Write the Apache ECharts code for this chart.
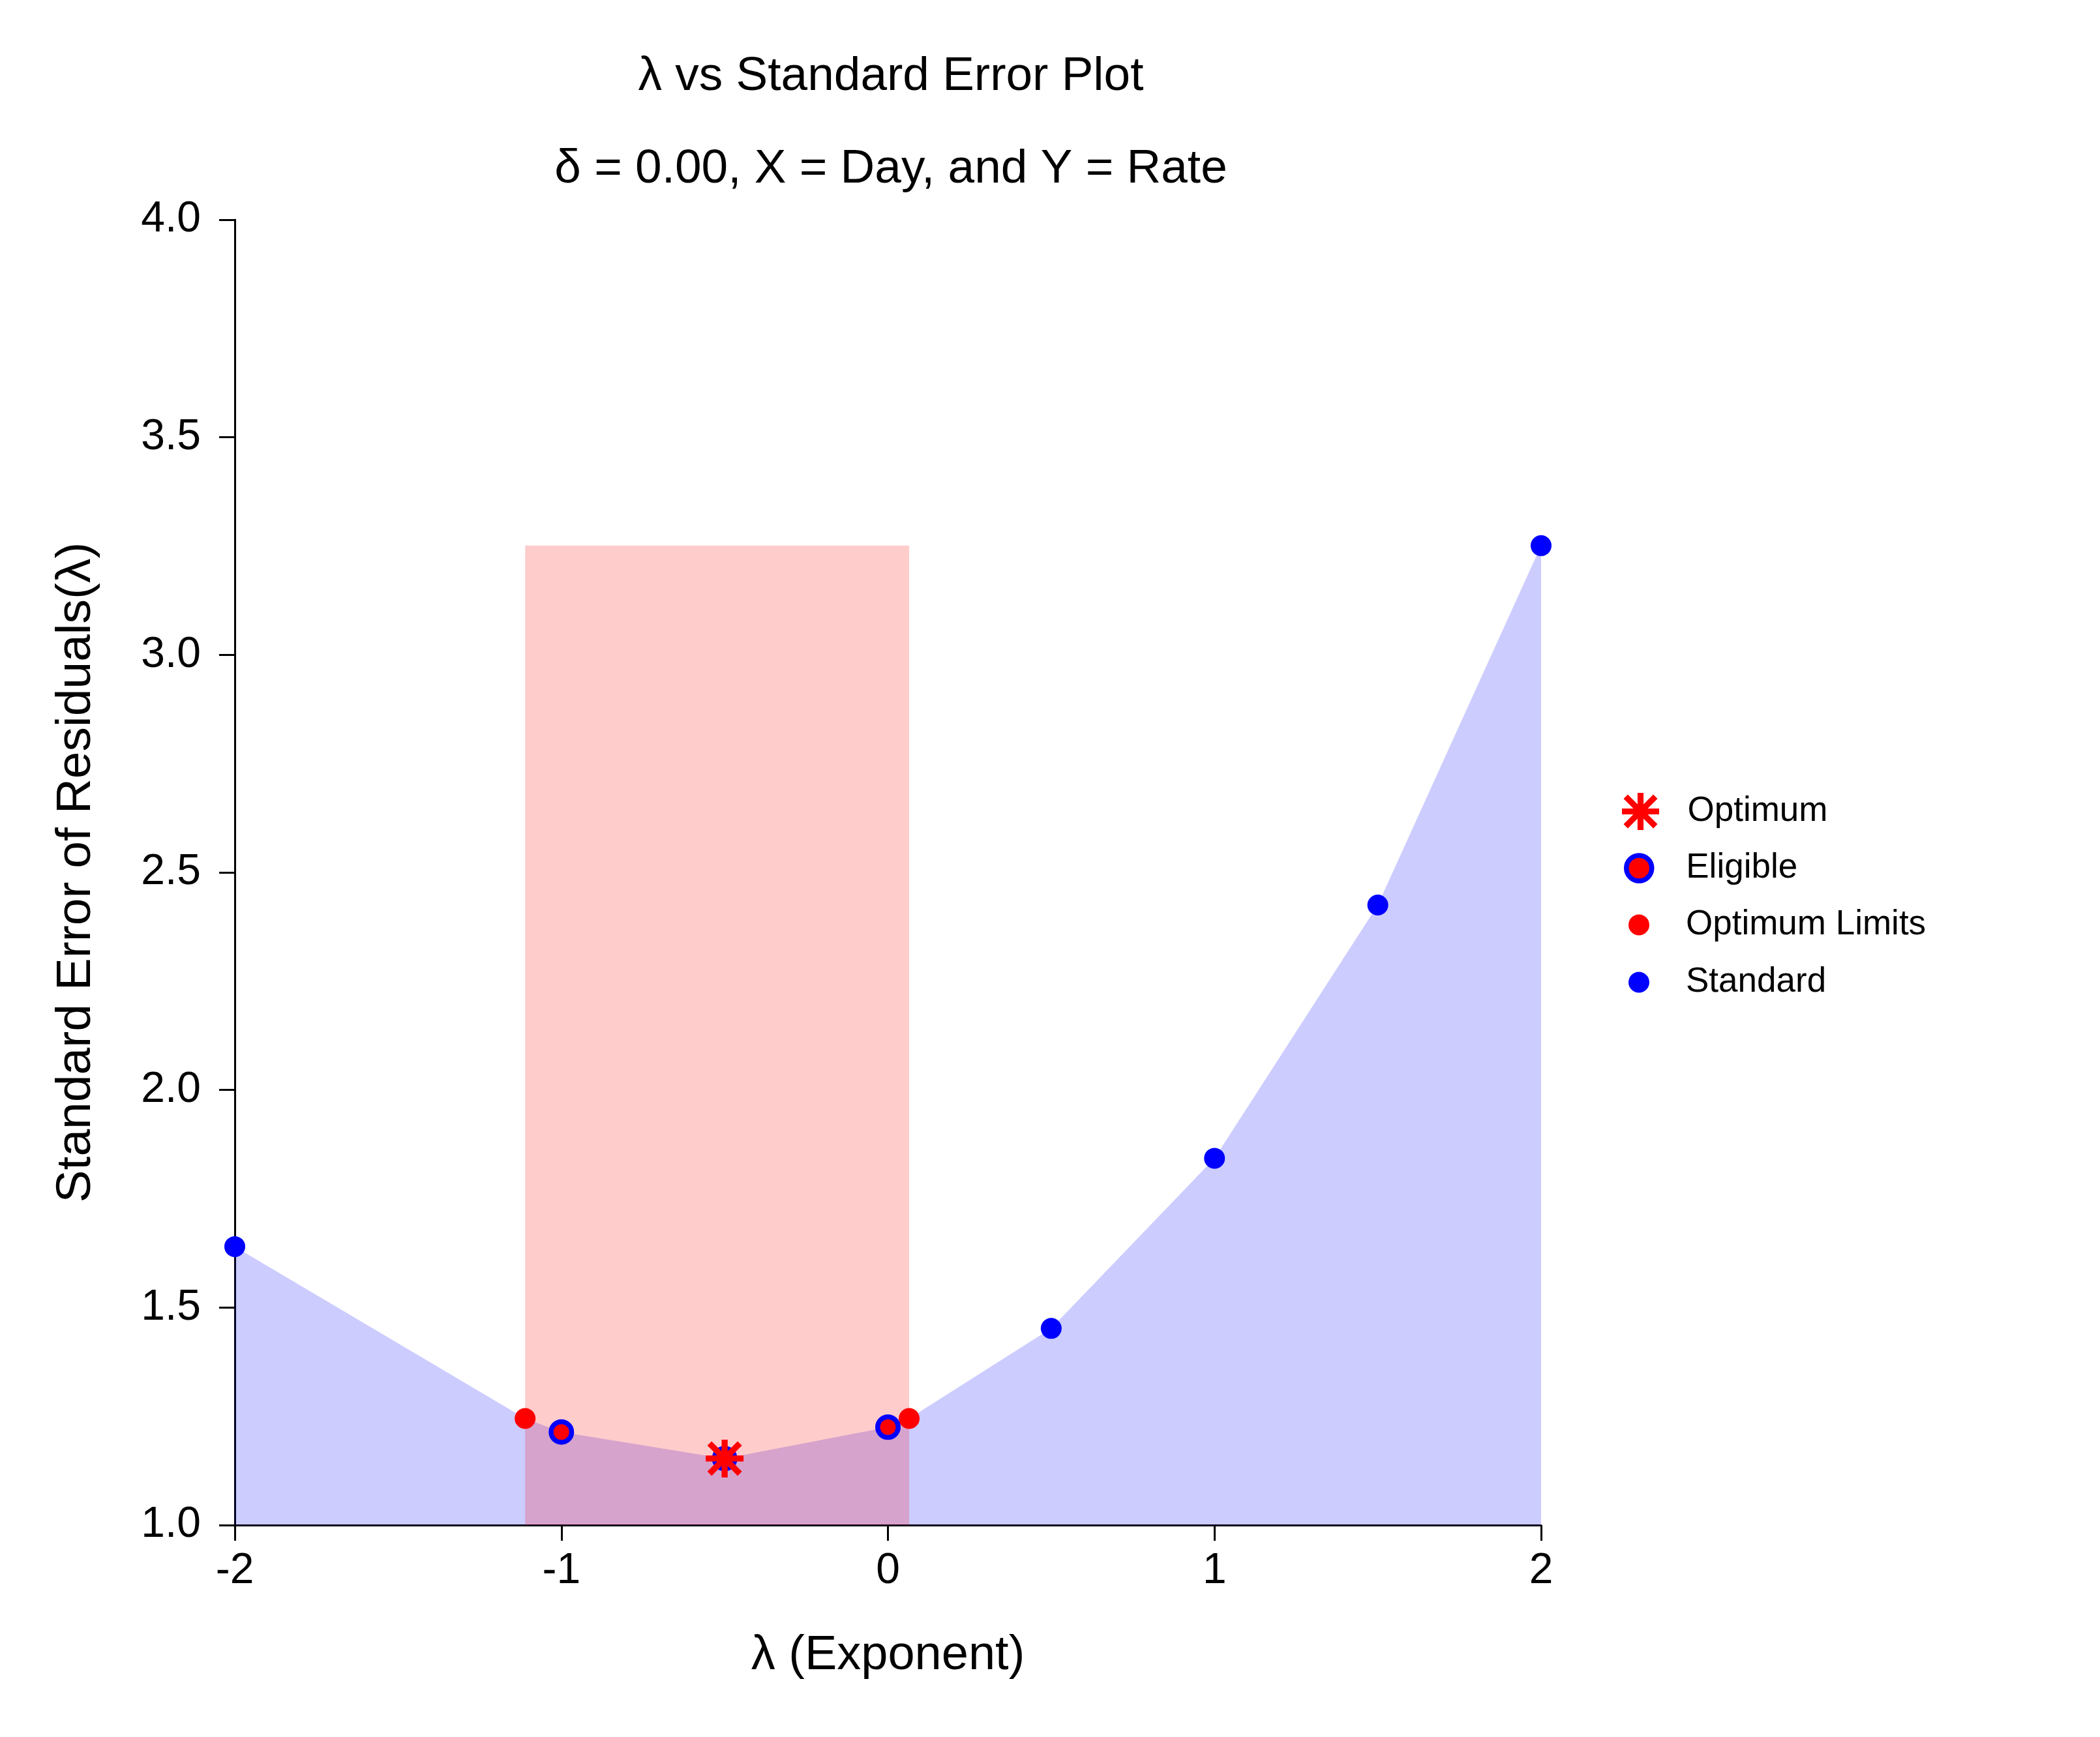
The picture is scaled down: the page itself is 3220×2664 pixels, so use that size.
<!DOCTYPE html>
<html>
<head>
<meta charset="utf-8">
<script src="https://cdn.jsdelivr.net/npm/echarts@6/dist/echarts.min.js"></script>
<style>
html,body{margin:0;padding:0;background:#fff;}
#chart{width:3220px;height:2664px;}
</style>
</head>
<body>
<div id="chart"></div>
<script>
// ---- data ----
const lambdaStd = [-2, -1, -0.5, 0, 0.5, 1, 1.5, 2];
const seStd = [1.640, 1.214, 1.153, 1.225, 1.452, 1.843, 2.425, 3.251];
const lambdaEligible = [-1, -0.5, 0];
const seEligible = [1.214, 1.153, 1.225];
const lambdaLimits = [-1.111, 0.065];
const seLimits = [1.245, 1.245];
const lambdaOpt = [-0.5];
const seOpt = [1.153];
const xTicks = [-2, -1, 0, 1, 2];
const yTicks = ['1.0', '1.5', '2.0', '2.5', '3.0', '3.5', '4.0'];
const titleText = 'λ vs Standard Error Plot';
const subtitleText = 'δ = 0.00, X = Day, and Y = Rate';
const xName = 'λ (Exponent)';
const yName = 'Standard Error of Residuals(λ)';

const FONT = '"Liberation Sans", Arial, sans-serif';
const STAR = 'path://M42 0L58 0L58 100L42 100Z M0 42L100 42L100 58L0 58Z M15.66 4.34L95.66 84.34L84.34 95.66L4.34 15.66Z M84.34 4.34L95.66 15.66L15.66 95.66L4.34 84.34Z';

const pairs = (xs, ys) => xs.map((x, i) => [x, ys[i]]);
const areaData = pairs(lambdaStd, seStd).concat(pairs(lambdaLimits, seLimits)).sort((a, b) => a[0] - b[0]);
const yMin = parseFloat(yTicks[0]), yMax = parseFloat(yTicks[yTicks.length - 1]);
const seMax = Math.max.apply(null, seStd);

const chart = echarts.init(document.getElementById('chart'), null, {renderer: 'canvas'});

function legendItem(name, left, top, size, icon, itemStyle) {
  const w = 134;
  return {
    data: [{name: name, icon: icon, itemStyle: itemStyle}],
    orient: 'vertical',
    left: left,
    top: top,
    padding: 0,
    itemWidth: w,
    itemHeight: size,
    symbolKeepAspect: true,
    selectedMode: false,
    textStyle: {fontFamily: FONT, fontSize: 53, color: '#000'}
  };
}

chart.setOption({
  animation: false,
  backgroundColor: '#fff',
  title: [
    {text: titleText, left: 1361, top: 76, textAlign: 'center',
     textStyle: {fontFamily: FONT, fontSize: 73, fontWeight: 'normal', color: '#000'}},
    {text: subtitleText, left: 1361, top: 218, textAlign: 'center',
     textStyle: {fontFamily: FONT, fontSize: 73, fontWeight: 'normal', color: '#000'}}
  ],
  legend: [
    legendItem('Optimum', 2487, 1216, 57, STAR, {color: '#ff0000', borderWidth: 0}),
    legendItem('Eligible', 2490, 1305, 39, 'circle', {color: '#ff0000', borderColor: '#0000ff', borderWidth: 7.5}),
    legendItem('Optimum Limits', 2497, 1392, 32, 'circle', {color: '#ff0000', borderWidth: 0}),
    legendItem('Standard', 2497, 1480, 32, 'circle', {color: '#0000ff', borderWidth: 0})
  ],
  grid: {left: 360, right: 857, top: 337, bottom: 325, containLabel: false},
  xAxis: {
    type: 'value', min: xTicks[0], max: xTicks[xTicks.length - 1], interval: 1,
    name: xName, nameLocation: 'middle', nameGap: 164,
    nameTextStyle: {fontFamily: FONT, fontSize: 74, color: '#000'},
    axisLine: {show: true, onZero: false, lineStyle: {color: '#000', width: 3}},
    axisTick: {show: true, length: 24, lineStyle: {color: '#000', width: 3}},
    axisLabel: {fontFamily: FONT, fontSize: 66, color: '#000', margin: 38},
    splitLine: {show: false}
  },
  yAxis: {
    type: 'value', min: yMin, max: yMax, interval: 0.5,
    name: yName, nameLocation: 'middle', nameGap: 205, nameRotate: 90,
    nameTextStyle: {fontFamily: FONT, fontSize: 75, color: '#000'},
    axisLine: {show: true, onZero: false, lineStyle: {color: '#000', width: 3}},
    axisTick: {show: true, length: 24, lineStyle: {color: '#000', width: 3}},
    axisLabel: {fontFamily: FONT, fontSize: 66, color: '#000', margin: 52,
      formatter: v => v.toFixed(1)},
    splitLine: {show: false}
  },
  series: [
    {
      name: 'area', type: 'line', data: areaData, symbol: 'none', z: 2,
      lineStyle: {width: 0, opacity: 0},
      areaStyle: {color: 'rgba(0,0,255,0.2)', opacity: 1, origin: 'start'},
      silent: true,
      markArea: {
        z: 3, silent: true,
        itemStyle: {color: 'rgba(255,0,0,0.2)', opacity: 1, borderWidth: 0},
        data: [[{xAxis: lambdaLimits[0], yAxis: yMin}, {xAxis: lambdaLimits[1], yAxis: seMax}]]
      }
    },
    {
      name: 'Standard', type: 'scatter', z: 4, data: pairs(lambdaStd, seStd),
      symbol: 'circle', symbolSize: 32, itemStyle: {color: '#0000ff', opacity: 1}
    },
    {
      name: 'Optimum Limits', type: 'scatter', z: 5, data: pairs(lambdaLimits, seLimits),
      symbol: 'circle', symbolSize: 32, itemStyle: {color: '#ff0000', opacity: 1}
    },
    {
      name: 'Eligible', type: 'scatter', z: 6, data: pairs(lambdaEligible, seEligible),
      symbol: 'circle', symbolSize: 31.5,
      itemStyle: {color: '#ff0000', borderColor: '#0000ff', borderWidth: 7.5, opacity: 1}
    },
    {
      name: 'Optimum', type: 'scatter', z: 7, data: pairs(lambdaOpt, seOpt),
      symbol: STAR, symbolSize: 58, itemStyle: {color: '#ff0000', opacity: 1}
    }
  ]
});
</script>
</body>
</html>
